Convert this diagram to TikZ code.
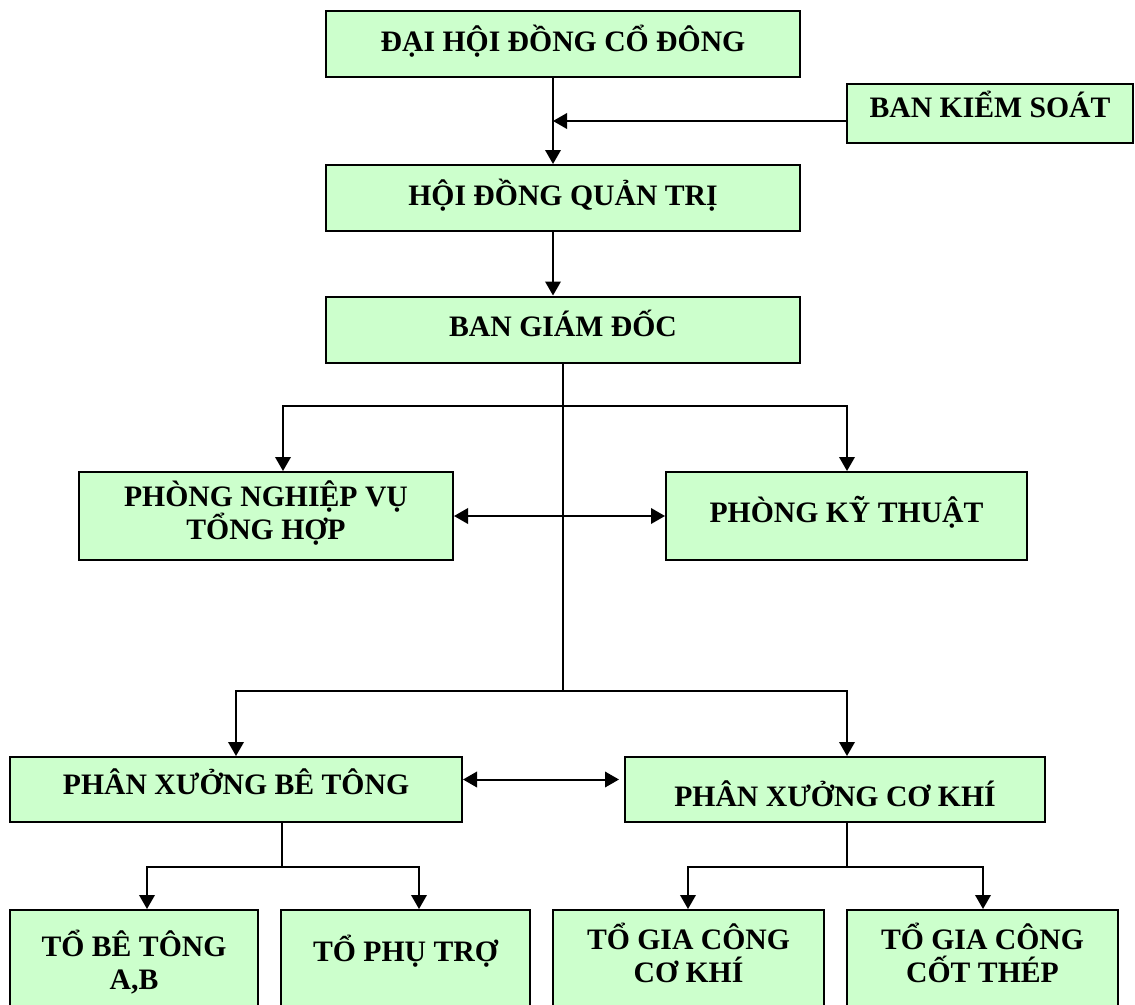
\documentclass[tikz,border=0pt]{standalone}
\usepackage{fontspec}
\setmainfont{Liberation Serif}
\usetikzlibrary{arrows.meta}
\definecolor{boxgreen}{HTML}{CCFFCC}

\begin{document}
\begin{tikzpicture}[x=1pt, y=-1pt,
    box/.style={draw, line width=2pt, fill=boxgreen, inner sep=0pt, align=center,
      font=\fontsize{29.7}{33}\selectfont\bfseries},
    tx/.style={text height=#1pt, text depth=0pt},
    conn/.style={line width=2pt},
    arr/.style={conn, -{Triangle[width=15.5pt,length=14pt]}},
    darr/.style={conn, {Triangle[width=15.5pt,length=14pt]}-{Triangle[width=15.5pt,length=14pt]}}]
        \useasboundingbox (0,0) rectangle (1135,1004);

        % Top levels
        \node[box, tx=15.7, minimum width=474, minimum height=66] (dhd) at (563,44) {ĐẠI HỘI ĐỒNG CỔ ĐÔNG};
        \node[box, tx=8.7, minimum width=286, minimum height=59] (bks) at (990,113.5) {BAN KIỂM SOÁT};
        \node[box, tx=15.7, minimum width=474, minimum height=66] (hdqt) at (563,198) {HỘI ĐỒNG QUẢN TRỊ};
        \node[box, tx=14.7, minimum width=474, minimum height=66] (bgd) at (563,329.5) {BAN GIÁM ĐỐC};

        % Departments
        \node[box, tx=47.7, minimum width=374, minimum height=88] (pnv) at (266,516) {PHÒNG NGHIỆP VỤ\\TỔNG HỢP};
        \node[box, tx=13.7, minimum width=361, minimum height=88] (pkt) at (846.5,516) {PHÒNG KỸ THUẬT};

        % Workshops
        \node[box, tx=10.7, minimum width=452, minimum height=65] (pxbt) at (236,789.5) {PHÂN XƯỞNG BÊ TÔNG};
        \node[box, tx=34.7, minimum width=420, minimum height=65] (pxck) at (835,789.5) {PHÂN XƯỞNG CƠ KHÍ};

        % Teams
        \node[box, tx=57.7, minimum width=248, minimum height=102] (tbt) at (134,961) {TỔ BÊ TÔNG\\A,B};
        \node[box, tx=1.7, minimum width=249, minimum height=102] (tpt) at (405.5,961) {TỔ PHỤ TRỢ};
        \node[box, tx=43.7, minimum width=271, minimum height=102] (tgck) at (688.5,961) {TỔ GIA CÔNG\\CƠ KHÍ};
        \node[box, tx=43.7, minimum width=271, minimum height=102] (tgct) at (982.5,961) {TỔ GIA CÔNG\\CỐT THÉP};

        % Junctions
        \coordinate (ks) at (553,121);
        \coordinate (s1) at (563,406);
        \coordinate (s2) at (563,691);
        \coordinate (b1) at (282,867);
        \coordinate (b2) at (847,867);

        % Arrows
        \draw[arr] ([xshift=-10pt]dhd.south) -- ([xshift=-10pt]hdqt.north);
        \draw[arr] (bks.west |- ks) -- (ks);
        \draw[arr] ([xshift=-10pt]hdqt.south) -- ([xshift=-10pt]bgd.north);
        \draw[conn] (bgd.south) -- (s2);
        \draw[arr] (s1) -| ([xshift=17pt]pnv.north);
        \draw[arr] (s1) -| ([xshift=0.5pt]pkt.north);
        \draw[darr] (pnv.east) -- (pkt.west);
        \draw[arr] (s2) -| (pxbt.north);
        \draw[arr] (s2) -| ([xshift=12pt]pxck.north);
        \draw[darr, shorten >=5pt] ([yshift=10pt]pxbt.east) -- ([yshift=10pt]pxck.west);
        \draw[conn] (pxbt.south -| b1) -- (b1);
        \draw[arr] (b1) -| ([xshift=13pt]tbt.north);
        \draw[arr] (b1) -| ([xshift=13.5pt]tpt.north);
        \draw[conn] (pxck.south -| b2) -- (b2);
        \draw[arr] (b2) -| ([xshift=-0.5pt]tgck.north);
        \draw[arr] (b2) -| ([xshift=0.5pt]tgct.north);
    \end{tikzpicture}
\end{document}
